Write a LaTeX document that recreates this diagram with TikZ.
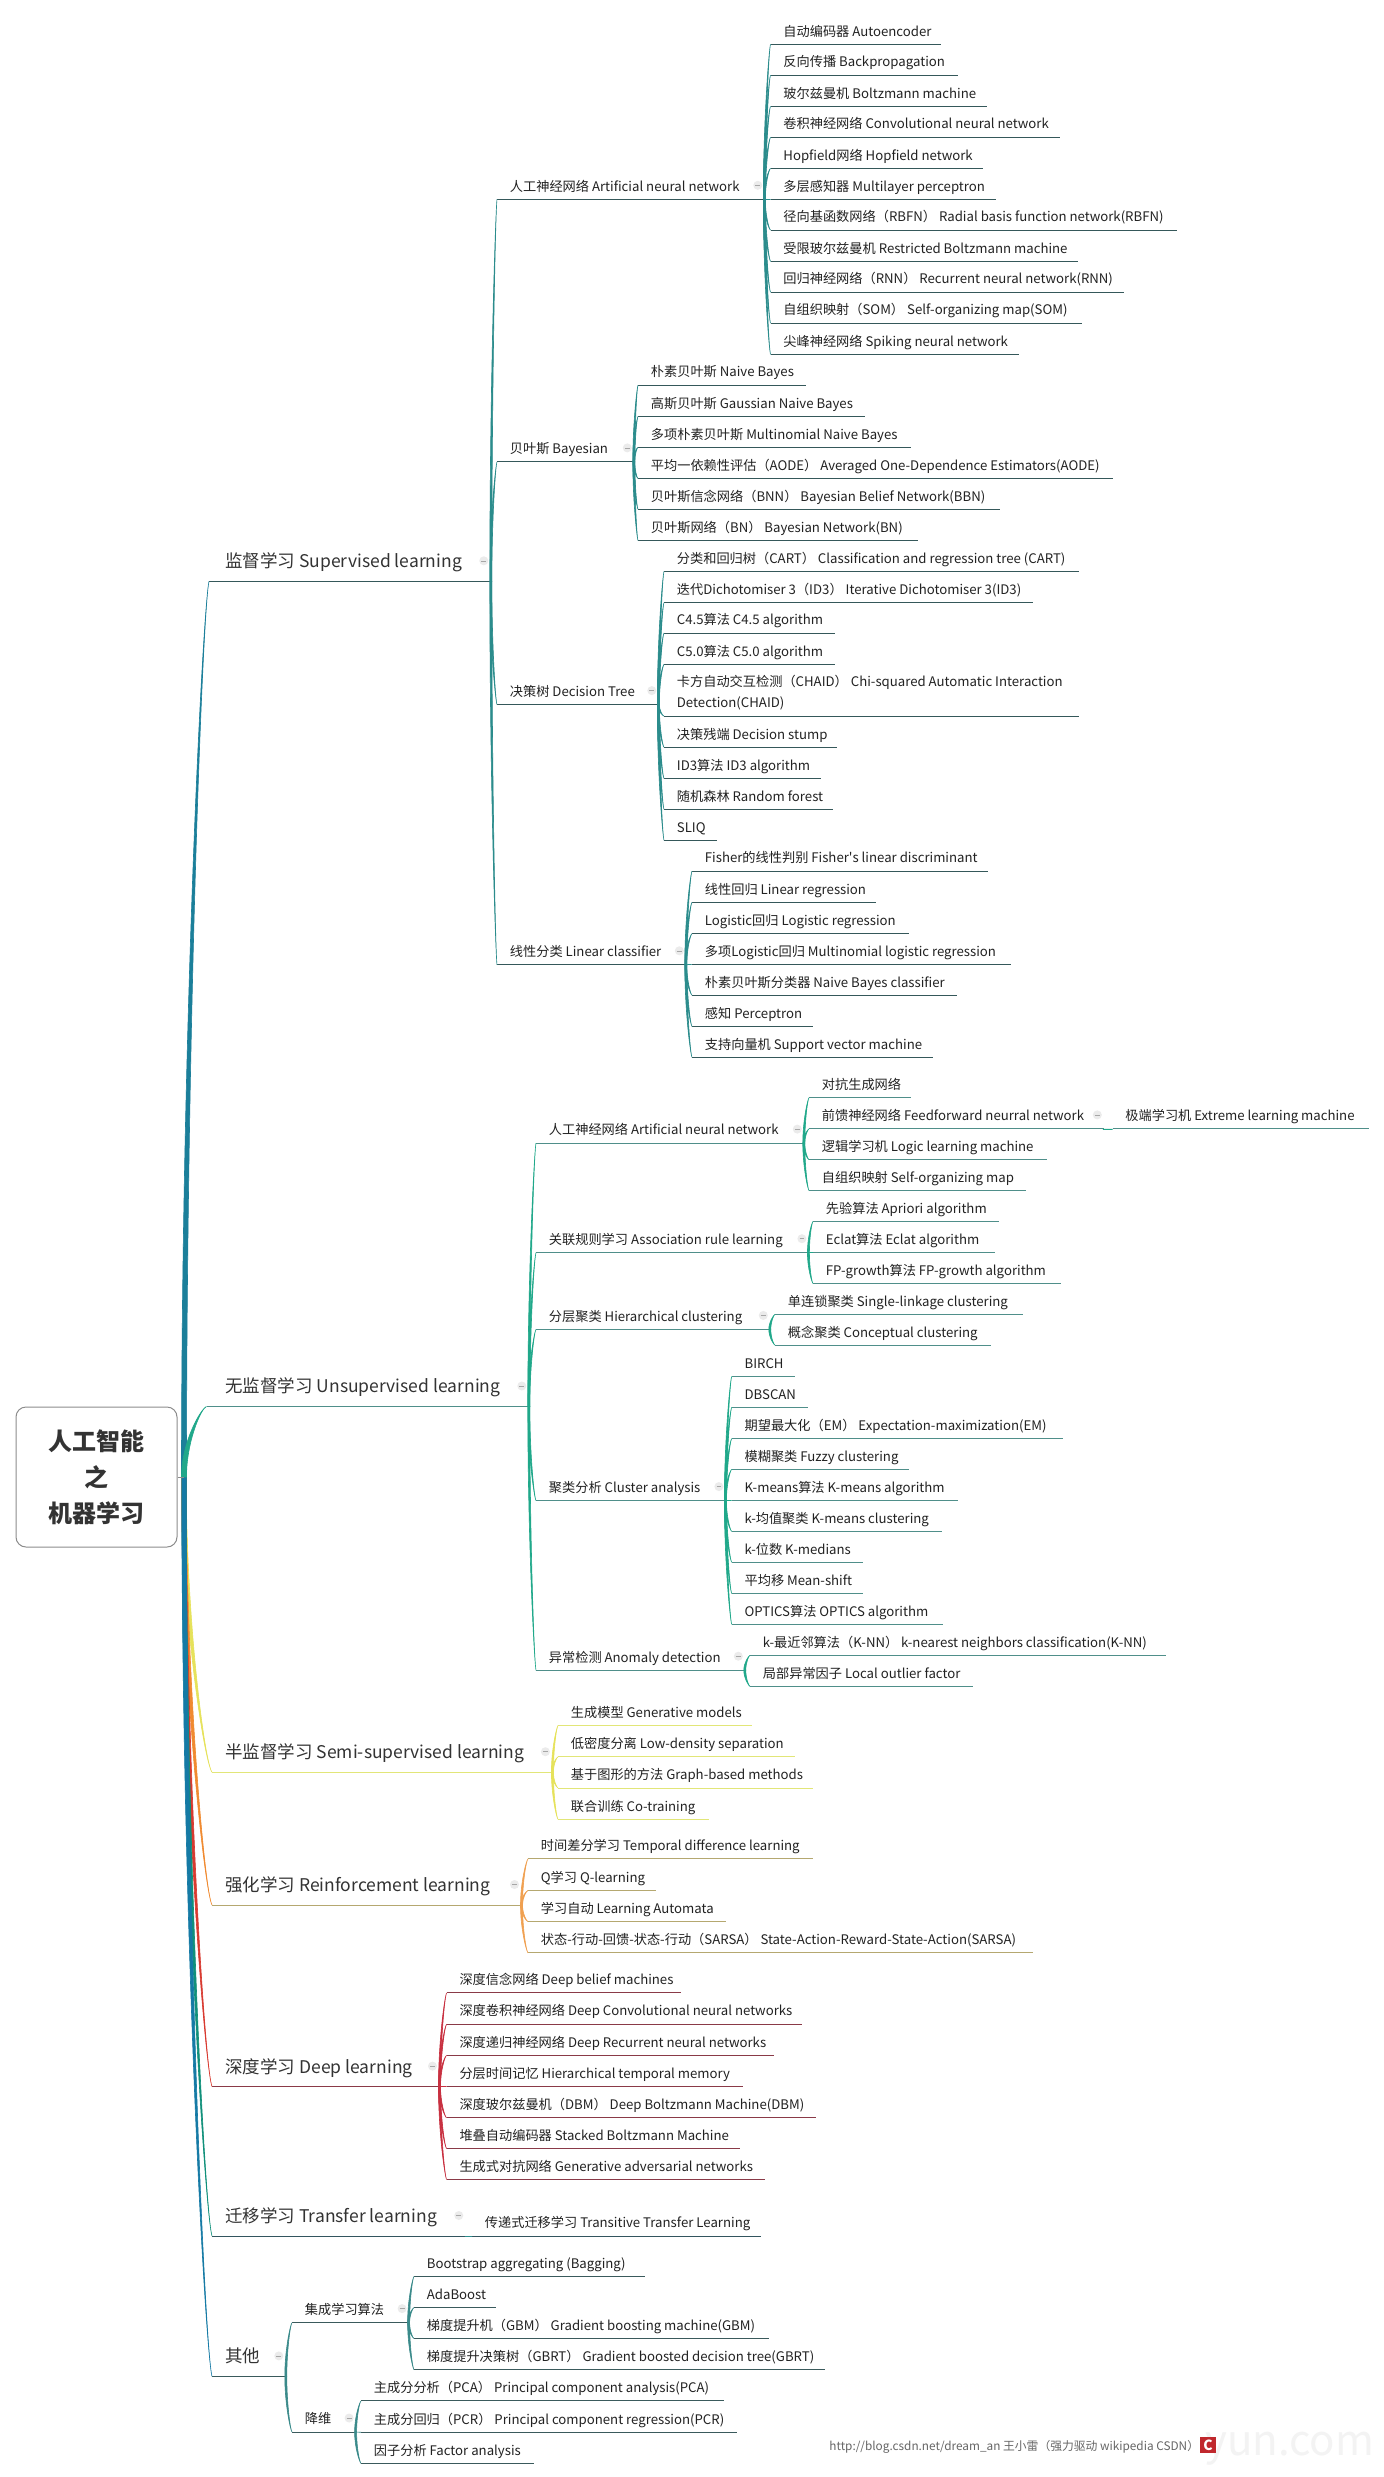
\documentclass[tikz,border=0pt]{standalone}
\usepackage{fontspec}
\setmainfont{Noto Sans CJK SC}
\newfontfamily\aposf{Noto Sans CJK SC}
\usetikzlibrary{calc}
\definecolor{txta}{HTML}{222222}
\definecolor{txtb}{HTML}{333333}
\definecolor{wmk}{HTML}{666666}
\definecolor{wmkb}{HTML}{F3F3F3}
\definecolor{logo}{HTML}{C0282D}
\definecolor{uln}{HTML}{000000}
\definecolor{cln}{HTML}{000000}
\tikzset{
  lf/.style={anchor=south west,inner sep=0pt,font=\fontsize{6.6}{8.5}\selectfont,text=txta,text height=5.5pt,text depth=3.9pt},
  lone/.style={anchor=south west,inner sep=0pt,font=\fontsize{8.75}{11}\selectfont,text=txtb,text height=7pt,text depth=6.6pt},
  rootbox/.style={draw=black!45,fill=white,line width=.5pt,rounded corners=5pt,minimum width=80.5pt,minimum height=70pt,align=center,inner sep=0pt,font=\fontsize{12}{18}\selectfont\bfseries,text=txtb},
  coll/.style={circle,fill=black!8,inner sep=0pt,minimum size=4.5pt,path picture={\draw[black!35,line width=.3pt] (-1.2pt,0)--(1.2pt,0);}},
  ul/.style={uln,line width=.5pt}
}
\newcommand{\setc}[2]{\definecolor{uln}{HTML}{#1}\definecolor{cln}{HTML}{#2}}
\newcommand{\place}[7]{%
  \pgfmathsetlengthmacro\mmo{0.5pt*(#6-#3)}%
  \pgfmathsetlengthmacro\mmw{0.5pt*(#5-#6)}%
  \node[#1] (#2) at (#3,#4) {\hspace*{\mmo}\makebox[\mmw][l]{#7}};
  \draw[ul] (#2.south west) -- (#2.south east);
}
\newcommand{\nd}[5]{\pgfmathsetmacro\mmt{#2+12.5}\place{lf}{#1}{#2}{#3}{#4}{\mmt}{#5}}
\newcommand{\ndl}[5]{\place{lone}{#1}{#2}{#3}{#4}{225}{#5}}
\newcommand{\conn}[3][1]{%
  \filldraw[cln,line width=.3pt] let \p1=(#2), \p2=(#3) in
  ({\x1-#1*.5pt},\y1) .. controls ({\x1-#1*.5pt},{\y1+.5*(\y2-\y1)}) and ({\x1+.75*(\x2-\x1)},{\y1+.97*(\y2-\y1)}) .. (\p2)
  .. controls ({\x1+.75*(\x2-\x1)},{\y1+.97*(\y2-\y1)}) and ({\x1+#1*.5pt},{\y1+.5*(\y2-\y1)}) .. ({\x1+#1*.5pt},\y1) -- cycle;
}
\newcommand{\kids}[2]{\foreach \mmk in {#2} {\conn{#1.south east}{\mmk.south west}}}
\newcommand{\colla}[2]{\node[coll] (#1) at ($(#2.south east)+(-6.5,-14)$) {};}
\newcommand{\collb}[2]{\node[coll] (#1) at ($(#2.south east)+(-7,-20.5)$) {};}
\begin{document}
\begin{tikzpicture}[x=0.5pt,y=-0.5pt]
\useasboundingbox (0,0) rectangle (1384,2477);
\fill[white] (0,0) rectangle (1384,2477);
\coordinate (hub) at (184,1477);

% ---------- Semi-supervised
\setc{E2E678}{E6E25A}
\ndl{v}{212}{1772.2}{551.6}{半监督学习 Semi-supervised learning}
\nd{j1}{558}{1725.6}{751}{生成模型 Generative models}
\nd{j2}{558}{1756.8}{794}{低密度分离 Low-density separation}
\nd{j3}{558}{1788}{812}{基于图形的方法 Graph-based methods}
\nd{j4}{558}{1819.3}{708}{联合训练 Co-training}
\kids{v}{j1,j2,j3,j4}
\collb{xv}{v}
\conn[2.2]{hub}{v.south west}

% ---------- Reinforcement
\setc{B5A870}{F0A050}
\ndl{w}{212}{1905}{520.7}{强化学习 Reinforcement learning}
\nd{k1}{528}{1858.8}{812}{时间差分学习 Temporal difference learning}
\nd{k2}{528}{1890.4}{655}{Q学习 Q-learning}
\nd{k3}{528}{1921.7}{725.5}{学习自动 Learning Automata}
\nd{k4}{528}{1952.9}{1032}{状态-行动-回馈-状态-行动（SARSA） State-Action-Reward-State-Action(SARSA)}
\kids{w}{k1,k2,k3,k4}
\collb{xw}{w}
\definecolor{cln}{HTML}{F08A30}\conn[2.2]{hub}{w.south west}

% ---------- Deep
\setc{8A3A48}{C83040}
\ndl{y}{212}{2086.6}{438.7}{深度学习 Deep learning}
\nd{l1}{446.6}{1992.9}{680.5}{深度信念网络 Deep belief machines}
\nd{l2}{446.6}{2024.1}{801.4}{深度卷积神经网络 Deep Convolutional neural networks}
\nd{l3}{446.6}{2055.3}{773}{深度递归神经网络 Deep Recurrent neural networks}
\nd{l4}{446.6}{2086.6}{742}{分层时间记忆 Hierarchical temporal memory}
\nd{l5}{446.6}{2117.8}{814.7}{深度玻尔兹曼机（DBM） Deep Boltzmann Machine(DBM)}
\nd{l6}{446.6}{2148.7}{739.6}{堆叠自动编码器 Stacked Boltzmann Machine}
\nd{l7}{446.6}{2179.5}{764}{生成式对抗网络 Generative adversarial networks}
\kids{y}{l1,l2,l3,l4,l5,l6,l7}
\collb{xy}{y}
\definecolor{cln}{HTML}{D83A30}\conn[2.2]{hub}{y.south west}

% ---------- Transfer
\setc{33555F}{2B8C8C}
\ndl{z}{212}{2236}{465}{迁移学习 Transfer learning}
\nd{m1}{472}{2236}{760}{传递式迁移学习 Transitive Transfer Learning}
\kids{z}{m1}
\collb{xz}{z}
\definecolor{cln}{HTML}{10907A}\conn[2.2]{hub}{z.south west}

% ---------- Other
\setc{3A5A5C}{3A8A8A}
\ndl{o}{212}{2376.4}{285}{其他}
\nd{oa}{292}{2322.6}{407.8}{集成学习算法}
\nd{ob}{292}{2432}{354.8}{降维}
\nd{n1}{414}{2276.4}{644}{Bootstrap aggregating (Bagging)}
\nd{n2}{414}{2307.6}{495}{AdaBoost}
\nd{n3}{414}{2338.5}{768}{梯度提升机（GBM） Gradient boosting machine(GBM)}
\nd{n4}{414}{2369.7}{824.4}{梯度提升决策树（GBRT） Gradient boosted decision tree(GBRT)}
\nd{q1}{361}{2400.9}{723}{主成分分析（PCA） Principal component analysis(PCA)}
\nd{q2}{361}{2432.2}{736}{主成分回归（PCR） Principal component regression(PCR)}
\nd{q3}{361}{2463.4}{533}{因子分析 Factor analysis}
\kids{o}{oa,ob}
\kids{oa}{n1,n2,n3,n4}
\kids{ob}{q1,q2,q3}
\collb{xo}{o}\colla{xoa}{oa}\colla{xob}{ob}
\definecolor{cln}{HTML}{157AA5}\conn[2.2]{hub}{o.south west}

% ---------- Supervised
\setc{35585A}{2B8C8C}
\ndl{s}{209}{581.3}{490}{监督学习 Supervised learning}
\nd{sa}{497}{199.3}{763.5}{人工神经网络 Artificial neural network}
\nd{sb}{497}{461.9}{633}{贝叶斯 Bayesian}
\nd{sc}{497}{704.6}{657.5}{决策树 Decision Tree}
\nd{sd}{497}{964.8}{685}{线性分类 Linear classifier}
\nd{a1}{770.5}{44.3}{940}{自动编码器 Autoencoder}
\nd{a2}{770.5}{75.1}{957}{反向传播 Backpropagation}
\nd{a3}{770.5}{106.4}{986}{玻尔兹曼机 Boltzmann machine}
\nd{a4}{770.5}{137.2}{1059}{卷积神经网络 Convolutional neural network}
\nd{a5}{770.5}{168.4}{982}{Hopfield网络 Hopfield network}
\nd{a6}{770.5}{199.3}{995}{多层感知器 Multilayer perceptron}
\nd{a7}{770.5}{230.1}{1176}{径向基函数网络（RBFN） Radial basis function network(RBFN)}
\nd{a8}{770.5}{261.4}{1077}{受限玻尔兹曼机 Restricted Boltzmann machine}
\nd{a9}{770.5}{292.2}{1123}{回归神经网络（RNN） Recurrent neural network(RNN)}
\nd{a10}{770.5}{323.1}{1081}{自组织映射（SOM） Self-organizing map(SOM)}
\nd{a11}{770.5}{354.3}{1018}{尖峰神经网络 Spiking neural network}
\nd{b1}{638}{385.1}{805}{朴素贝叶斯 Naive Bayes}
\nd{b2}{638}{416.4}{864}{高斯贝叶斯 Gaussian Naive Bayes}
\nd{b3}{638}{447.2}{910}{多项朴素贝叶斯 Multinomial Naive Bayes}
\nd{b4}{638}{478.5}{1112}{平均一依赖性评估（AODE） Averaged One-Dependence Estimators(AODE)}
\nd{b5}{638}{509.3}{999}{贝叶斯信念网络（BNN） Bayesian Belief Network(BBN)}
\nd{b6}{638}{540.5}{917}{贝叶斯网络（BN） Bayesian Network(BN)}
\nd{c1}{664}{571.4}{1078}{分类和回归树（CART） Classification and regression tree (CART)}
\nd{c2}{664}{602.6}{1032}{迭代Dichotomiser 3（ID3） Iterative Dichotomiser 3(ID3)}
\nd{c3}{664}{633}{834}{C4.5算法 C4.5 algorithm}
\nd{c4}{664}{664.3}{834}{C5.0算法 C5.0 algorithm}
\nd{c5}{664}{716.1}{1078}{\rlap{\raisebox{10.5pt}{卡方自动交互检测（CHAID） Chi-squared Automatic Interaction}}Detection(CHAID)}
\nd{c6}{664}{747.3}{836}{决策残端 Decision stump}
\nd{c7}{664}{778.6}{820}{ID3算法 ID3 algorithm}
\nd{c8}{664}{809.4}{832}{随机森林 Random forest}
\nd{c9}{664}{840.2}{716}{SLIQ}
\nd{d1}{692}{871.1}{987}{Fisher的线性判别 Fisher{\aposf '}s linear discriminant}
\nd{d2}{692}{902.3}{875.5}{线性回归 Linear regression}
\nd{d3}{692}{933.6}{908}{Logistic回归 Logistic regression}
\nd{d4}{692}{964.4}{1010}{多项Logistic回归 Multinomial logistic regression}
\nd{d5}{692}{995.2}{956}{朴素贝叶斯分类器 Naive Bayes classifier}
\nd{d6}{692}{1026.5}{812}{感知 Perceptron}
\nd{d7}{692}{1057.3}{932}{支持向量机 Support vector machine}
\kids{s}{sa,sb,sc,sd}
\kids{sa}{a1,a2,a3,a4,a5,a6,a7,a8,a9,a10,a11}
\kids{sb}{b1,b2,b3,b4,b5,b6}
\kids{sc}{c1,c2,c3,c4,c5,c6,c7,c8,c9}
\kids{sd}{d1,d2,d3,d4,d5,d6,d7}
\collb{xs}{s}\colla{xsa}{sa}\colla{xsb}{sb}\colla{xsc}{sc}\colla{xsd}{sd}
\definecolor{cln}{HTML}{1B7F9A}
\conn[2.5]{hub}{s.south west}

% ---------- Unsupervised
\setc{4F8F8A}{20A88A}
\ndl{u}{206.5}{1406.5}{528}{无监督学习 Unsupervised learning}
\nd{ua}{536}{1143.1}{803}{人工神经网络 Artificial neural network}
\nd{ub}{536}{1252.7}{807.6}{关联规则学习 Association rule learning}
\nd{uc}{536}{1329.4}{769}{分层聚类 Hierarchical clustering}
\nd{ud}{536}{1500.6}{724.6}{聚类分析 Cluster analysis}
\nd{ue}{536}{1670.2}{744}{异常检测 Anomaly detection}
\nd{e1}{809}{1097.7}{910}{对抗生成网络}
\nd{e2}{809}{1128.9}{1103}{前馈神经网络 Feedforward neurral network}
\nd{e2a}{1112.5}{1128.9}{1368}{极端学习机 Extreme learning machine}
\nd{e3}{809}{1159.7}{1046}{逻辑学习机 Logic learning machine}
\nd{e4}{809}{1190.6}{1025.6}{自组织映射 Self-organizing map}
\nd{f1}{813}{1221.4}{998}{先验算法 Apriori algorithm}
\nd{f2}{813}{1252.7}{994}{Eclat算法 Eclat algorithm}
\nd{f3}{813}{1283.5}{1060}{FP-growth算法 FP-growth algorithm}
\nd{g1}{775}{1314.3}{1022}{单连锁聚类 Single-linkage clustering}
\nd{g2}{775}{1345.2}{990}{概念聚类 Conceptual clustering}
\nd{h1}{731.7}{1376.4}{794}{BIRCH}
\nd{h2}{731.7}{1407.3}{807.6}{DBSCAN}
\nd{h3}{731.7}{1438.5}{1062}{期望最大化（EM） Expectation-maximization(EM)}
\nd{h4}{731.7}{1469.3}{908}{模糊聚类 Fuzzy clustering}
\nd{h5}{731.7}{1500.6}{957.6}{K-means算法 K-means algorithm}
\nd{h6}{731.7}{1531.4}{941}{k-均值聚类 K-means clustering}
\nd{h7}{731.7}{1562.3}{862}{k-位数 K-medians}
\nd{h8}{731.7}{1593.5}{862}{平均移 Mean-shift}
\nd{h9}{731.7}{1624.3}{942}{OPTICS算法 OPTICS algorithm}
\nd{i1}{750}{1655.2}{1165}{k-最近邻算法（K-NN） k-nearest neighbors classification(K-NN)}
\nd{i2}{750}{1686.4}{972}{局部异常因子 Local outlier factor}
\kids{u}{ua,ub,uc,ud,ue}
\kids{ua}{e1,e2,e3,e4}
\kids{e2}{e2a}
\kids{ub}{f1,f2,f3}
\kids{uc}{g1,g2}
\kids{ud}{h1,h2,h3,h4,h5,h6,h7,h8,h9}
\kids{ue}{i1,i2}
\collb{xu}{u}\colla{xua}{ua}\colla{xub}{ub}\colla{xuc}{uc}\colla{xud}{ud}\colla{xue}{ue}\colla{xe2}{e2}
\conn[2.5]{hub}{u.south west}

% ---------- Root
\node[rootbox] (root) at (96.5,1477) {人工智能\\之\\机器学习};
\draw[black!45,line width=.5pt] (root.east) -- (hub);

% ---------- Watermark
\node[anchor=west,inner sep=0pt,font=\fontsize{21}{22}\selectfont,text=wmkb] (wb) at (1205,2449) {yun.com};
\node[anchor=west,inner sep=0pt,font=\fontsize{5.9}{8}\selectfont,text=wmk] (wa) at (829,2447) {http://blog.csdn.net/dream\_an 王小雷（强力驱动 wikipedia CSDN）};
\node[anchor=center,fill=logo,inner sep=0pt,minimum size=8pt,text=white,font=\fontsize{7}{7}\selectfont\bfseries] (wl) at (1208,2445) {C};
\end{tikzpicture}
\end{document}
